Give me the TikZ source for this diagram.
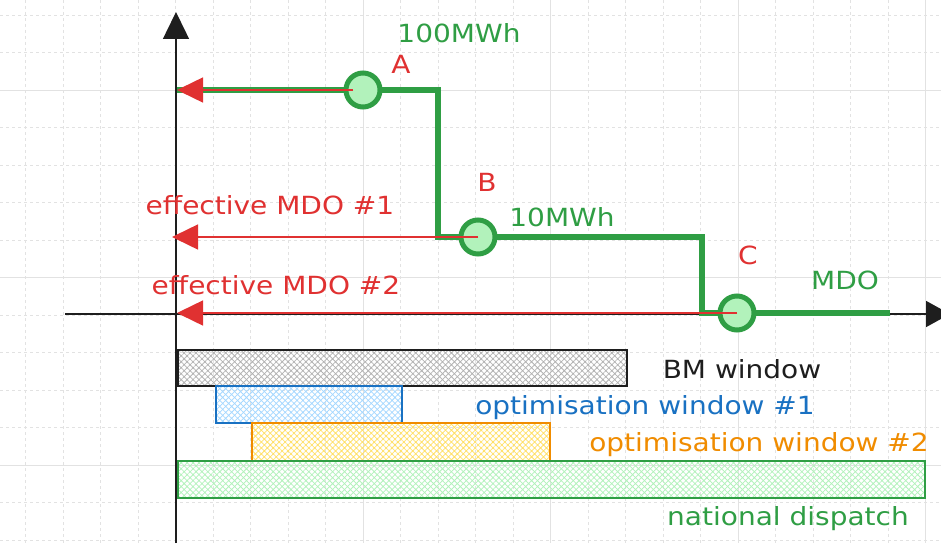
\documentclass[tikz,border=0pt]{standalone}
\usepackage{fontspec}
\newfontfamily\hand{DejaVu Sans}[FakeStretch=1.12]
\usetikzlibrary{arrows.meta,patterns.meta}
\definecolor{gr}{HTML}{2F9E44}
\definecolor{lgr}{HTML}{B2F2BB}
\definecolor{rd}{HTML}{E03131}
\definecolor{bl}{HTML}{1971C2}
\definecolor{lbl}{HTML}{A5D8FF}
\definecolor{og}{HTML}{F08C00}
\definecolor{ye}{HTML}{FFE066}
\definecolor{ink}{HTML}{1E1E1E}
\definecolor{gridc}{HTML}{E2E2E2}
\tikzset{
  minorgrid/.style={gridc, line width=0.8pt, dash pattern=on 3pt off 3pt},
  majorgrid/.style={gridc, line width=0.9pt},
  axisline/.style={ink, line width=1.5pt},
  stepline/.style={gr, line width=6pt, line join=miter},
  ptnode/.style={circle, draw=gr, fill=lgr, line width=5pt, minimum size=34pt, inner sep=0pt},
  redarrow/.style={rd, line width=1.5pt, -{Triangle[length=26pt,width=25pt]}},
  lbl/.style={anchor=base, inner sep=0pt, font=\hand\fontsize{25}{28}\selectfont},
  barbox/.style={line width=1.6pt},
  hatchfill/.style={pattern={Hatch[angle=45,distance=4.2pt,line width=0.75pt]}, pattern color=#1},
}
\begin{document}
\begin{tikzpicture}[x=1pt,y=-1pt]
\useasboundingbox[fill=white] (0,0) rectangle (941,543);
% grid
\foreach \i in {0,...,24} \draw[minorgrid] ({25.5+37.5*\i},0) -- ({25.5+37.5*\i},543);
\foreach \j in {0,...,14} \draw[minorgrid] (0,{15+37.5*\j}) -- (941,{15+37.5*\j});
\foreach \x in {363,550.5,738,925.5} \draw[majorgrid] (\x,0) -- (\x,543);
\foreach \y in {90,277.5,465} \draw[majorgrid] (0,\y) -- (941,\y);
% axes
\coordinate (yb) at (176,543);
\coordinate (yt) at (176,12);
\coordinate (xl) at (65,314);
\coordinate (xr) at (950,314);
\draw[axisline, -{Triangle[length=27pt,width=26pt]}] (yb) -- (yt);
\draw[axisline, -{Triangle[length=24pt,width=26pt]}] (xl) -- (xr);
% bars
\draw[barbox, draw=ink, hatchfill=gray!60] (178,350) rectangle (627,386);
\draw[barbox, draw=bl, hatchfill=lbl] (216,386) rectangle (402,423);
\draw[barbox, draw=og, hatchfill=ye] (252,423) rectangle (550,461);
\draw[barbox, draw=gr, hatchfill=lgr] (178,461) rectangle (925,498);
% step line
\coordinate (o1) at (177,90);
\coordinate (k1) at (438,90);
\coordinate (k2) at (438,237);
\coordinate (k3) at (702,237);
\coordinate (k4) at (702,313);
\coordinate (e) at (890,313);
\draw[stepline] (o1) -- (k1) -- (k2) -- (k3) -- (k4) -- (e);
\node[ptnode] (A) at (363,90) {};
\node[ptnode] (B) at (478,237) {};
\node[ptnode] (C) at (737,313) {};
% red arrows
\coordinate (t1) at (177,90);
\coordinate (t2) at (172,237);
\coordinate (t3) at (177,313);
\draw[redarrow] ([xshift=-10pt]A.center) -- (t1);
\draw[redarrow] (B.center) -- (t2);
\draw[redarrow] (C.center) -- (t3);
% labels
\node[lbl, text=gr] (l100) at (459,43) {100MWh};
\node[lbl, text=rd] (lA) at (401,73) {A};
\node[lbl, text=rd] (lB) at (487,191) {B};
\node[lbl, text=gr] (l10) at (562,226) {10MWh};
\node[lbl, text=rd] (lC) at (748,264) {C};
\node[lbl, text=gr] (lM) at (845,289) {MDO};
\node[lbl, text=rd] (le1) at (270,214) {effective MDO \#1};
\node[lbl, text=rd] (le2) at (276,294) {effective MDO \#2};
\node[lbl, text=ink] (lbm) at (742,378) {BM window};
\node[lbl, text=bl] (lo1) at (645,414) {optimisation window \#1};
\node[lbl, text=og] (lo2) at (759,451) {optimisation window \#2};
\node[lbl, text=gr] (lnd) at (788,525) {national dispatch};
\end{tikzpicture}
\end{document}
